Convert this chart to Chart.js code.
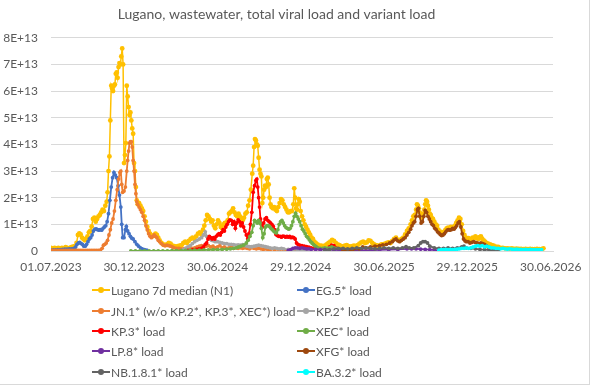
<!DOCTYPE html>
<html>
<head>
<meta charset="utf-8">
<script src="https://cdn.jsdelivr.net/npm/chart.js@4.4.1/dist/chart.umd.min.js"></script>
<style>
  html, body { margin: 0; padding: 0; background: #fff; }
  #wrap { position: relative; width: 593px; height: 388px; overflow: hidden; font-family: Lato, "Liberation Sans", sans-serif; }
  #frame { position: absolute; left: 0; top: 0; width: 590px; height: 385px; border-right: 1px solid #d9d9d9; border-bottom: 1px solid #d9d9d9; box-sizing: border-box; }
  canvas { position: absolute; left: 0; top: 0; }
  .lg { position: absolute; height: 16px; display: flex; align-items: center; font-size: 12px; color: #595959; white-space: nowrap; }
  .sw { position: relative; width: 18px; height: 16px; margin-right: 1px; }
  .sw .ln { position: absolute; left: 0; right: 0; top: 7px; height: 2px; }
  .sw .dt { position: absolute; left: 6px; top: 5px; width: 6px; height: 6px; border-radius: 50%; }
</style>
</head>
<body>
<div id="wrap">
  <div id="frame"></div>
  <canvas id="c" width="593" height="388"></canvas>
  <div id="legend"></div>
</div>
<script>
// ---- data: [days since 01.07.2023, load in units of 1E+13] ----
const startDate = Date.UTC(2023, 6, 1);
const xTickDays = [0, 182, 365, 547, 730, 912, 1095];

const luganoN1 = [[0,0.12],[4,0.1],[8,0.12],[12,0.1],[16,0.12],[20,0.1],[24,0.12],[28,0.1],[32,0.14],[36,0.12],[40,0.1],[44,0.14],[48,0.16],[52,0.18],[56,0.3],[59,0.6],[62,0.66],[65,0.62],[68,0.5],[71,0.45],[74,0.4],[77,0.45],[80,0.55],[83,0.7],[86,0.75],[89,0.92],[92,1.2],[95,1.25],[98,1.1],[101,1.2],[104,1.3],[107,1.35],[110,1.45],[113,1.55],[116,1.5],[119,1.7],[122,1.85],[124,2.2],[126,3.0],[128,3.55],[130,4.9],[132,6.2],[134,6.1],[136,6.0],[138,6.2],[140,6.25],[142,6.65],[144,6.7],[146,6.5],[148,6.9],[150,7.05],[152,7.0],[154,7.3],[156,7.6],[158,7.0],[160,3.3],[162,3.6],[164,4.05],[166,6.2],[168,5.8],[170,5.4],[172,5.1],[174,5.2],[176,4.9],[178,4.6],[180,4.4],[182,3.3],[184,3.0],[186,2.4],[188,1.9],[190,1.75],[193,1.8],[196,1.7],[199,1.6],[202,1.5],[205,1.3],[208,1.1],[211,0.9],[214,0.75],[217,0.65],[220,0.55],[223,0.55],[226,0.6],[229,0.65],[232,0.6],[235,0.5],[238,0.4],[242,0.3],[246,0.25],[250,0.22],[254,0.25],[258,0.3],[262,0.28],[266,0.2],[270,0.18],[274,0.16],[278,0.18],[282,0.2],[286,0.22],[290,0.3],[294,0.35],[298,0.3],[302,0.38],[306,0.45],[310,0.5],[314,0.45],[318,0.55],[322,0.65],[326,0.7],[330,0.6],[333,0.8],[336,0.95],[339,1.15],[342,1.35],[345,1.3],[348,1.2],[351,1.1],[354,1.15],[357,0.95],[360,0.85],[363,1.0],[366,1.15],[369,1.05],[372,0.9],[375,0.85],[378,1.0],[381,1.05],[384,1.0],[387,1.15],[390,1.4],[393,1.45],[396,1.5],[399,1.6],[402,1.45],[405,1.35],[408,1.3],[411,1.4],[414,1.3],[417,1.2],[420,1.15],[423,1.25],[426,1.4],[429,1.45],[432,1.7],[435,1.9],[438,2.3],[441,2.9],[443,3.2],[445,3.9],[447,4.2],[449,4.15],[451,4.0],[453,3.95],[455,3.5],[457,3.05],[459,2.9],[461,2.8],[463,1.8],[465,2.0],[467,2.3],[469,2.45],[471,2.4],[473,2.7],[475,2.75],[477,2.5],[479,2.0],[481,1.75],[483,1.65],[486,1.6],[489,1.65],[492,1.55],[495,1.5],[498,1.65],[501,1.8],[504,1.95],[507,1.9],[510,1.75],[513,1.65],[516,1.55],[519,1.45],[522,1.45],[525,1.5],[528,1.5],[531,1.75],[533,2.35],[535,2.0],[537,1.6],[539,1.55],[541,1.75],[543,1.95],[545,1.85],[547,1.5],[550,1.3],[553,1.15],[556,1.0],[559,0.9],[562,0.8],[565,0.7],[568,0.6],[571,0.5],[574,0.45],[577,0.35],[580,0.3],[584,0.25],[588,0.2],[592,0.2],[596,0.18],[600,0.2],[604,0.25],[608,0.3],[612,0.35],[616,0.42],[620,0.38],[624,0.3],[628,0.25],[632,0.22],[636,0.18],[640,0.16],[644,0.2],[648,0.22],[652,0.18],[656,0.16],[660,0.18],[664,0.2],[668,0.18],[672,0.22],[676,0.28],[680,0.32],[684,0.35],[688,0.3],[692,0.32],[696,0.4],[700,0.38],[704,0.3],[708,0.25],[712,0.22],[716,0.2],[720,0.2],[724,0.25],[728,0.25],[732,0.28],[736,0.3],[740,0.32],[744,0.3],[748,0.38],[752,0.45],[756,0.5],[760,0.42],[764,0.38],[768,0.45],[772,0.5],[776,0.62],[780,0.75],[784,0.85],[788,1.0],[791,1.15],[794,1.3],[797,1.35],[800,1.55],[802,1.75],[804,1.7],[806,1.6],[808,1.45],[810,1.3],[812,1.25],[814,1.3],[816,1.4],[818,1.55],[820,1.75],[822,1.9],[824,1.85],[826,1.7],[828,1.55],[830,1.4],[832,1.35],[834,1.25],[837,1.2],[840,1.1],[843,1.0],[846,0.95],[849,0.8],[852,0.7],[855,0.72],[858,0.65],[861,0.68],[864,0.78],[867,0.85],[870,0.88],[873,0.85],[876,0.9],[879,0.88],[882,0.9],[885,0.95],[888,1.05],[891,1.15],[894,1.25],[897,1.2],[900,1.0],[903,0.75],[906,0.6],[909,0.5],[912,0.45],[915,0.48],[918,0.42],[921,0.45],[924,0.5],[927,0.48],[930,0.55],[933,0.5],[936,0.45],[939,0.52],[942,0.55],[945,0.45],[948,0.4],[951,0.35],[954,0.3],[958,0.28],[962,0.25],[966,0.22],[970,0.2],[975,0.16],[980,0.15],[985,0.12],[990,0.12],[995,0.1],[1000,0.1],[1005,0.09],[1010,0.1],[1015,0.08],[1020,0.09],[1025,0.08],[1030,0.08],[1035,0.07],[1040,0.08],[1045,0.07],[1050,0.08],[1055,0.07],[1060,0.07],[1065,0.08],[1070,0.07],[1075,0.07],[1079,0.1]];

const eg5Load = [[0,0.03],[5,0.04],[10,0.04],[15,0.05],[20,0.05],[25,0.06],[30,0.07],[35,0.07],[40,0.08],[45,0.08],[50,0.1],[54,0.15],[57,0.25],[60,0.3],[63,0.32],[66,0.28],[69,0.25],[72,0.18],[75,0.18],[78,0.25],[81,0.35],[84,0.45],[87,0.5],[90,0.6],[93,0.75],[96,0.82],[99,0.83],[102,0.8],[105,0.78],[108,0.8],[111,0.78],[114,0.85],[117,0.9],[120,0.95],[123,1.1],[126,1.4],[129,1.9],[132,2.4],[135,2.75],[138,2.95],[141,2.85],[144,2.75],[147,2.45],[150,2.1],[153,1.65],[155,1.0],[157,0.5],[160,0.5],[163,0.8],[165,0.92],[168,0.75],[171,0.65],[174,0.55],[177,0.48],[180,0.45],[184,0.35],[188,0.25],[192,0.18],[196,0.12],[200,0.08],[205,0.05],[210,0.03]];

const jn1Load = [[0,0.02],[4,0.02],[8,0.02],[12,0.02],[16,0.02],[20,0.02],[24,0.02],[28,0.02],[32,0.02],[36,0.02],[40,0.02],[44,0.02],[48,0.02],[52,0.02],[56,0.02],[60,0.02],[64,0.02],[68,0.02],[72,0.02],[76,0.02],[80,0.02],[84,0.02],[88,0.02],[92,0.02],[96,0.02],[100,0.02],[104,0.02],[108,0.03],[112,0.1],[115,0.22],[118,0.25],[121,0.3],[124,0.4],[127,0.6],[130,0.8],[133,1.05],[136,1.2],[139,1.5],[142,1.9],[145,2.3],[148,2.7],[151,2.95],[153,3.0],[155,2.5],[157,2.2],[160,2.25],[163,2.4],[166,3.0],[168,3.4],[170,3.75],[172,4.05],[174,4.1],[176,4.1],[178,3.9],[180,3.4],[182,3.0],[184,2.5],[186,2.15],[188,1.85],[190,1.75],[193,1.65],[196,1.55],[199,1.45],[202,1.3],[205,1.15],[208,0.95],[211,0.8],[214,0.65],[217,0.55],[220,0.5],[223,0.55],[226,0.6],[229,0.55],[232,0.5],[235,0.4],[238,0.35],[242,0.28],[246,0.22],[250,0.2],[254,0.22],[258,0.2],[262,0.18],[266,0.15],[270,0.12],[275,0.1],[280,0.1],[285,0.08],[290,0.08],[295,0.1],[300,0.1],[305,0.12],[310,0.1],[315,0.12],[320,0.15],[325,0.18],[330,0.2],[335,0.15],[340,0.18],[345,0.2],[350,0.15],[355,0.18],[360,0.12],[365,0.15],[370,0.2],[375,0.12],[380,0.15],[385,0.1],[390,0.12],[395,0.15],[400,0.1],[405,0.12],[410,0.1],[415,0.12],[420,0.1],[425,0.12],[430,0.1],[435,0.08],[440,0.12],[445,0.1],[450,0.08],[455,0.1],[460,0.08],[465,0.06],[470,0.08],[475,0.06],[480,0.05],[490,0.05],[500,0.04],[510,0.04],[520,0.03],[530,0.03],[540,0.02]];

const kp2Load = [[290,0.05],[295,0.1],[300,0.15],[305,0.2],[310,0.28],[315,0.35],[320,0.4],[325,0.45],[330,0.5],[334,0.6],[338,0.72],[341,0.55],[344,0.5],[348,0.45],[352,0.4],[356,0.38],[360,0.35],[365,0.35],[370,0.32],[375,0.3],[380,0.28],[385,0.28],[390,0.25],[395,0.25],[400,0.24],[405,0.22],[410,0.23],[415,0.22],[420,0.24],[425,0.2],[430,0.18],[435,0.16],[440,0.16],[445,0.18],[450,0.2],[455,0.22],[460,0.2],[465,0.18],[470,0.16],[475,0.14],[480,0.12],[485,0.1],[490,0.12],[495,0.1],[500,0.08],[505,0.1],[510,0.08],[520,0.06],[530,0.05],[540,0.04],[550,0.03],[560,0.02]];

const kp3Load = [[300,0.02],[310,0.04],[318,0.06],[324,0.08],[330,0.1],[334,0.15],[338,0.25],[341,0.3],[344,0.45],[347,0.55],[350,0.5],[353,0.45],[356,0.5],[359,0.45],[362,0.55],[365,0.6],[368,0.65],[371,0.6],[374,0.7],[377,0.8],[380,0.75],[383,0.9],[386,1.0],[389,1.1],[392,1.17],[395,1.15],[398,1.0],[401,1.1],[404,0.85],[407,1.05],[410,1.17],[413,1.1],[416,0.95],[419,1.05],[422,0.9],[425,0.75],[428,0.6],[431,0.45],[434,0.66],[437,1.0],[440,1.45],[443,2.2],[446,2.45],[449,2.65],[451,2.7],[453,2.4],[455,2.0],[457,1.65],[459,1.2],[461,1.0],[463,0.9],[466,1.05],[469,1.2],[472,1.25],[475,1.15],[478,1.1],[481,1.05],[484,1.0],[487,0.92],[490,0.8],[493,0.62],[496,0.58],[499,0.55],[502,0.55],[505,0.52],[508,0.56],[511,0.55],[514,0.52],[517,0.55],[520,0.52],[523,0.55],[526,0.5],[529,0.52],[532,0.5],[535,0.45],[538,0.3],[541,0.25],[545,0.22],[550,0.2],[555,0.18],[560,0.16],[565,0.14],[570,0.12],[575,0.1],[580,0.08],[590,0.06],[600,0.08],[610,0.15],[615,0.22],[620,0.2],[625,0.12],[630,0.08],[640,0.05],[650,0.03]];

const xecLoad = [[175,0.0],[185,0.0],[195,0.0],[205,0.0],[215,0.0],[225,0.0],[235,0.0],[245,0.0],[255,0.0],[265,0.01],[275,0.01],[285,0.01],[295,0.02],[305,0.02],[315,0.03],[325,0.03],[335,0.04],[345,0.04],[355,0.05],[365,0.05],[375,0.06],[385,0.07],[393,0.08],[400,0.1],[406,0.12],[411,0.15],[416,0.18],[422,0.22],[428,0.3],[432,0.4],[436,0.55],[440,0.7],[443,0.95],[446,1.15],[449,1.1],[452,1.05],[455,1.15],[458,1.05],[461,0.85],[464,0.5],[467,0.65],[470,0.9],[473,0.95],[476,0.95],[479,0.92],[482,0.85],[485,0.8],[488,0.75],[491,0.7],[494,0.68],[497,0.8],[500,1.0],[503,1.1],[506,1.15],[509,1.05],[512,0.95],[515,0.88],[518,0.85],[521,0.82],[524,0.85],[527,0.95],[530,1.1],[533,1.3],[536,1.42],[539,1.3],[542,1.2],[545,1.1],[548,0.95],[551,0.82],[554,0.75],[557,0.65],[560,0.55],[563,0.5],[566,0.42],[569,0.35],[572,0.3],[575,0.25],[578,0.2],[581,0.16],[585,0.12],[590,0.1],[595,0.1],[600,0.12],[605,0.1],[610,0.12],[615,0.15],[620,0.12],[625,0.1],[630,0.08],[635,0.06],[640,0.05],[650,0.04],[660,0.03],[670,0.02]];

const lp8Load = [[520,0.02],[525,0.05],[530,0.1],[535,0.12],[540,0.12],[545,0.1],[550,0.12],[555,0.1],[560,0.08],[565,0.08],[570,0.06],[580,0.06],[590,0.05],[600,0.05],[620,0.04],[640,0.03],[660,0.03],[680,0.03],[700,0.03],[720,0.04],[740,0.05],[760,0.06],[780,0.08],[790,0.08],[800,0.08],[810,0.07],[820,0.06],[830,0.05],[840,0.04],[850,0.02]];

const xfgLoad = [[640,0.02],[660,0.04],[675,0.08],[683,0.15],[690,0.12],[700,0.15],[710,0.18],[720,0.2],[727,0.23],[735,0.25],[742,0.3],[748,0.35],[752,0.42],[756,0.45],[760,0.38],[764,0.35],[768,0.4],[772,0.45],[776,0.5],[780,0.6],[784,0.7],[788,0.82],[791,0.95],[794,1.05],[797,1.1],[800,1.3],[803,1.55],[805,1.6],[808,1.3],[811,1.05],[814,1.1],[817,1.3],[820,1.52],[823,1.45],[826,1.3],[829,1.2],[832,1.1],[835,1.0],[838,0.95],[841,0.85],[844,0.8],[847,0.72],[850,0.68],[853,0.62],[856,0.58],[859,0.6],[862,0.65],[865,0.72],[868,0.78],[871,0.8],[874,0.78],[877,0.8],[880,0.85],[883,0.82],[886,0.88],[889,0.95],[892,1.05],[895,1.1],[898,0.9],[901,0.65],[904,0.45],[907,0.38],[910,0.35],[914,0.35],[918,0.3],[922,0.32],[926,0.35],[930,0.32],[934,0.3],[938,0.28],[942,0.3],[946,0.28],[950,0.25],[954,0.2],[958,0.15],[962,0.1],[966,0.06],[970,0.04]];

const nb181Load = [[600,0.02],[610,0.05],[620,0.08],[630,0.1],[640,0.1],[650,0.08],[660,0.1],[670,0.12],[680,0.1],[690,0.12],[700,0.1],[710,0.08],[720,0.1],[730,0.12],[740,0.1],[750,0.12],[760,0.1],[770,0.12],[778,0.16],[785,0.12],[795,0.12],[805,0.2],[810,0.3],[815,0.35],[820,0.35],[825,0.3],[830,0.18],[840,0.12],[850,0.1],[860,0.1],[870,0.12],[880,0.1],[890,0.12],[900,0.15],[905,0.18],[910,0.12],[920,0.1],[930,0.08],[940,0.06],[950,0.05],[960,0.04],[970,0.03],[980,0.02]];

const ba32Load = [[850,0.03],[855,0.05],[860,0.05],[865,0.06],[870,0.05],[875,0.06],[880,0.05],[885,0.06],[890,0.07],[895,0.08],[900,0.1],[905,0.1],[910,0.12],[915,0.1],[920,0.12],[925,0.15],[930,0.18],[935,0.2],[940,0.18],[945,0.2],[950,0.16],[955,0.18],[960,0.15],[965,0.12],[970,0.12],[975,0.1],[980,0.1],[985,0.08],[990,0.1],[995,0.08],[1000,0.07],[1005,0.08],[1010,0.07],[1015,0.06],[1020,0.07],[1025,0.06],[1030,0.06],[1035,0.05],[1040,0.06],[1045,0.05],[1050,0.06],[1055,0.05],[1060,0.05],[1065,0.05],[1070,0.05],[1075,0.05]];

const seriesLabels = ['Lugano 7d median (N1)','EG.5* load','JN.1* (w/o KP.2*, KP.3*, XEC*) load','KP.2* load','KP.3* load','XEC* load','LP.8* load','XFG* load','NB.1.8.1* load','BA.3.2* load'];
const seriesData = [luganoN1, eg5Load, jn1Load, kp2Load, kp3Load, xecLoad, lp8Load, xfgLoad, nb181Load, ba32Load];
const seriesColors = ['#FFC000','#4472C4','#ED7D31','#A5A5A5','#FF0000','#70AD47','#7030A0','#9E480E','#636363','#00FFFF'];

// ---- chart ----
const UNIT = 1e13;
function fmtDate(d) {
  const dt = new Date(startDate + Math.round(d) * 86400000);
  const p = n => String(n).padStart(2, '0');
  return p(dt.getUTCDate()) + '.' + p(dt.getUTCMonth() + 1) + '.' + dt.getUTCFullYear();
}
const FONT = 'Lato, "Liberation Sans", sans-serif';
const TXT = '#595959';
const n = seriesData.length;
const datasets = seriesData.map((arr, i) => ({
  label: seriesLabels[i],
  data: arr.map(([d, v]) => ({ x: d, y: v * UNIT })),
  borderColor: seriesColors[i],
  backgroundColor: seriesColors[i],
  pointBackgroundColor: seriesColors[i],
  pointBorderWidth: 0,
  pointRadius: i === 0 ? 2.4 : 1.9,
  borderWidth: i === 0 ? 1.5 : 1.8,
  tension: 0,
  order: n - i
}));

new Chart(document.getElementById('c'), {
  type: 'line',
  data: { datasets },
  options: {
    responsive: false,
    animation: false,
    events: [],
    layout: { padding: { left: 0, right: 40, top: 0, bottom: 110 } },
    plugins: {
      legend: { display: false },
      tooltip: { enabled: false },
      title: {
        display: true,
        text: 'Lugano, wastewater, total viral load and variant load',
        color: TXT,
        font: { family: FONT, size: 14, weight: 'normal' },
        padding: { top: 6, bottom: 15 }
      }
    },
    scales: {
      x: {
        type: 'linear',
        min: 0,
        max: 1100,
        afterBuildTicks: s => { s.ticks = xTickDays.map(v => ({ value: v })); },
        afterFit: s => { s.height = 27; },
        ticks: {
          callback: v => fmtDate(v),
          autoSkip: false, maxRotation: 0, minRotation: 0,
          color: TXT, font: { family: FONT, size: 12 }, padding: 9
        },
        grid: { display: false, drawTicks: false },
        border: { display: true, color: '#d9d9d9', width: 1 }
      },
      y: {
        min: 0,
        max: 8 * UNIT,
        afterFit: s => { s.width = 51; },
        ticks: {
          stepSize: UNIT,
          callback: v => v === 0 ? '0' : Math.round(v / UNIT) + 'E+13',
          color: TXT, font: { family: FONT, size: 12 }, padding: 13
        },
        grid: { color: '#d9d9d9', drawTicks: false },
        border: { display: false }
      }
    }
  }
});

// ---- legend (two columns, like the original) ----
const legend = document.getElementById('legend');
const colX = [92, 297];
const rowY = [282, 303, 323, 343, 364];
seriesLabels.forEach((lab, i) => {
  const item = document.createElement('div');
  item.className = 'lg';
  item.style.left = colX[i % 2] + 'px';
  item.style.top = rowY[Math.floor(i / 2)] + 'px';
  item.innerHTML = '<div class="sw"><div class="ln" style="background:' + seriesColors[i] + '"></div><div class="dt" style="background:' + seriesColors[i] + '"></div></div><span></span>';
  item.querySelector('span').textContent = lab;
  legend.appendChild(item);
});
</script>
</body>
</html>
